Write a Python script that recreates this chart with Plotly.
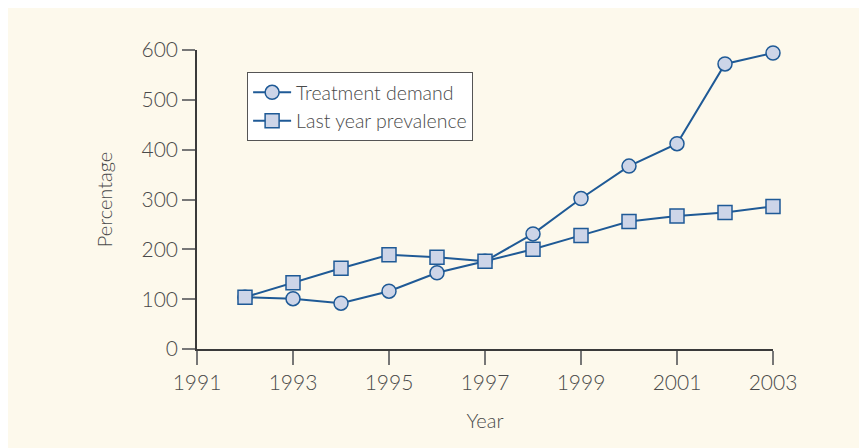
import plotly.graph_objects as go

# ── Data ──────────────────────────────────────────────────────────────────────
YEARS = [1992, 1993, 1994, 1995, 1996, 1997, 1998, 1999, 2000, 2001, 2002, 2003]
TREATMENT_DEMAND = [104, 101, 92, 116, 153, 176, 231, 302, 367, 412, 572, 594]
LAST_YEAR_PREV = [104, 133, 162, 189, 184, 176, 200, 228, 256, 267, 274, 286]
X_TICKS = [1991, 1993, 1995, 1997, 1999, 2001, 2003]
Y_TICKS = [0, 100, 200, 300, 400, 500, 600]

# ── Paleta ────────────────────────────────────────────────────────────────────
BG = "#FDF9EC"
LINE = "#1F5A96"
FILL = "#CDD5E8"
TEXT = "#4A4A4A"
AXIS = "#3A3A3A"
FONT = "Lato, sans-serif"

fig = go.Figure()
fig.add_trace(go.Scatter(
    x=YEARS, y=TREATMENT_DEMAND, name="Treatment demand",
    mode="lines+markers",
    line=dict(color=LINE, width=2),
    marker=dict(symbol="circle", size=14, color=FILL, line=dict(color=LINE, width=1.5)),
    cliponaxis=False,
))
fig.add_trace(go.Scatter(
    x=YEARS, y=LAST_YEAR_PREV, name="Last year prevalence",
    mode="lines+markers",
    line=dict(color=LINE, width=2),
    marker=dict(symbol="square", size=14, color=FILL, line=dict(color=LINE, width=1.5)),
    cliponaxis=False,
))

fig.update_layout(
    width=867, height=448,
    paper_bgcolor=BG, plot_bgcolor=BG,
    margin=dict(l=189, r=102, t=42, b=107),
    font=dict(family=FONT, color=TEXT, size=21, weight=300),
    showlegend=True,
    legend=dict(
        x=0.087, y=0.926, xanchor="left", yanchor="top",
        bgcolor="white", bordercolor="#555555", borderwidth=1,
        font=dict(size=19.5, color=TEXT, family=FONT, weight=300),
        itemwidth=38, tracegroupgap=0,
    ),
    xaxis=dict(
        range=[1991, 2003], tickvals=X_TICKS, ticktext=[str(t) for t in X_TICKS],
        showgrid=False, zeroline=False,
        showline=True, linecolor=AXIS, linewidth=1.5,
        ticks="outside", ticklen=14, tickwidth=1.5, tickcolor="#777777",
        title=dict(text="Year", font=dict(size=20, color=TEXT, weight=300), standoff=21),
    ),
    yaxis=dict(
        range=[0, 600], tickvals=Y_TICKS,
        showgrid=False, zeroline=False,
        showline=True, linecolor=AXIS, linewidth=1.5,
        ticks="outside", ticklen=13, tickwidth=1.5, tickcolor="#777777",
        title=dict(text="Percentage", font=dict(size=20, color=TEXT, weight=300), standoff=24),
    ),
)

fig.write_html("out.html")
